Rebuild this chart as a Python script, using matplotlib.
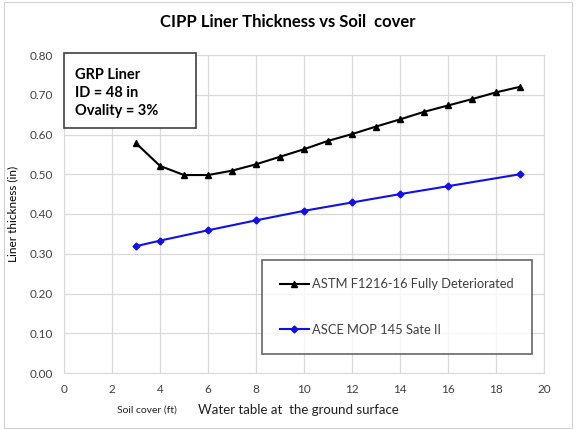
import matplotlib.pyplot as plt
from matplotlib.patches import Rectangle

plt.rcParams['font.family'] = ['Lato', 'DejaVu Sans']

# ASTM F1216-16 fully deteriorated
astm_x = [3, 4, 5, 6, 7, 8, 9, 10, 11, 12, 13, 14, 15, 16, 17, 18, 19]
astm_y = [0.578, 0.521, 0.498, 0.498, 0.509, 0.525, 0.544, 0.563, 0.584,
          0.601, 0.620, 0.638, 0.657, 0.673, 0.689, 0.706, 0.720]

# ASCE MOP 145 state II
asce_x = [3, 4, 6, 8, 10, 12, 14, 16, 19]
asce_y = [0.319, 0.333, 0.359, 0.384, 0.408, 0.429, 0.450, 0.470, 0.500]

x_ticks = list(range(0, 21, 2))
y_ticks = [0.0, 0.1, 0.2, 0.3, 0.4, 0.5, 0.6, 0.7, 0.8]

fig = plt.figure(figsize=(5.76, 4.30), dpi=100)
ax = fig.add_axes([64 / 576, 1 - 373 / 430, 480 / 576, 318 / 430])

ax.plot(astm_x, astm_y, '-^', color='black', lw=1.5, ms=5,
        label='ASTM F1216-16 Fully Deteriorated')
ax.plot(asce_x, asce_y, '-D', color='#1010e8', lw=1.5, ms=3.5,
        label='ASCE MOP 145 Sate II')

ax.set_xlim(0, 20)
ax.set_ylim(0, 0.8)
ax.set_xticks(x_ticks)
ax.set_yticks(y_ticks)
ax.set_yticklabels(['%.2f' % v for v in y_ticks])
ax.tick_params(length=0, labelsize=8.5, colors='#404040', pad=8)
ax.grid(color='#d9d9d9', lw=0.9)
for s in ax.spines.values():
    s.set_color('#d9d9d9')
ax.set_axisbelow(True)

ax.set_ylabel('Liner thickness (in)', fontsize=8.5, labelpad=8)
fig.text(117 / 576, 1 - 410 / 430, 'Soil cover (ft)', fontsize=7.5,
         ha='left', va='center', color='#202020')
fig.text(198 / 576, 1 - 410 / 430, 'Water table at  the ground surface',
         fontsize=9.5, ha='left', va='center', color='#202020')
fig.text(0.5, 1 - 22 / 430, 'CIPP Liner Thickness vs Soil  cover',
         fontsize=12, fontweight='bold', ha='center', va='center')

# info box
fig.patches.append(Rectangle((64 / 576, 1 - 128 / 430), 132 / 576, 75 / 430,
                             transform=fig.transFigure, fill=True, fc='white',
                             ec='#404040', lw=1.2, zorder=5))
fig.text(75 / 576, 1 - 68 / 430, 'GRP Liner\nID = 48 in\nOvality = 3%',
         fontsize=10.5, fontweight='bold', va='top', ha='left',
         linespacing=1.35, zorder=6)

leg = ax.legend(loc='upper left', bbox_to_anchor=(262 / 576, 1 - 260 / 430),
                bbox_transform=fig.transFigure, fontsize=9.3, frameon=True,
                fancybox=False, edgecolor='#404040', labelspacing=2.6,
                borderpad=1.4, handlelength=2.2, handletextpad=0.3,
                borderaxespad=0)
leg.get_frame().set_linewidth(1.2)
for t in leg.get_texts():
    t.set_color('#404040')

fig.patches.append(Rectangle((4 / 576, 2 / 430), 568 / 576, 426 / 430,
                             transform=fig.transFigure, fill=False,
                             ec='#d0d0d0', lw=0.8))

plt.savefig('out.png', dpi=100)
